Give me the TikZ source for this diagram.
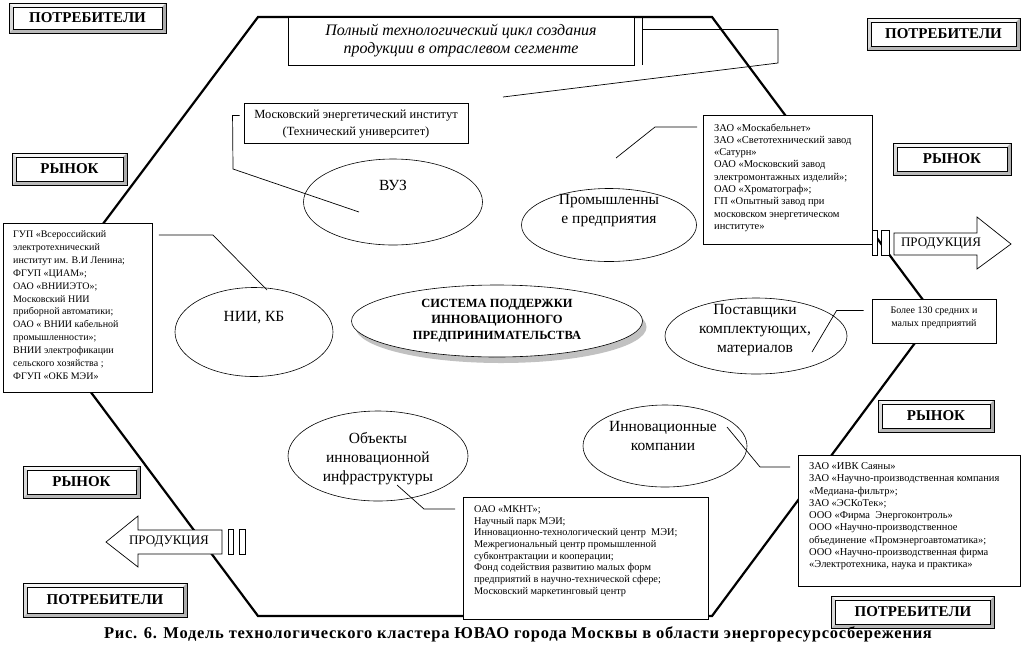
\documentclass[tikz,border=0pt]{standalone}
\usepackage{fontspec}
\setmainfont{Liberation Serif}
\newfontfamily\capfont[LetterSpace=4.5]{Liberation Serif}
\usetikzlibrary{positioning, calc, shapes.geometric, shadows}
\newcommand{\fsz}[2]{\fontsize{#1}{#2}\selectfont}

\begin{document}
\begin{tikzpicture}[x=1pt, y=-1pt,
  hexline/.style={line width=2.2pt, line join=miter},
  oval/.style={ellipse, draw, line width=0.6pt, fill=white, inner sep=0pt},
  ovaltext/.style={align=center, inner sep=0pt, font=\fsz{15.5}{19}},
  infobox/.style={draw, line width=0.9pt, fill=white, inner sep=0pt},
  boxtext/.style={align=left, inner sep=0pt, anchor=north west, font=\fsz{10.5}{12.3}},
  callout/.style={line width=0.7pt},
  stripe/.style={draw, line width=0.7pt, fill=white},
  bevelbtn/.style={draw, line width=0.7pt, fill=white, inner sep=0pt,
    font=\fsz{15}{18}\bfseries,
    path picture={
      \coordinate (bsw) at (path picture bounding box.south west);
      \coordinate (bne) at (path picture bounding box.north east);
      \coordinate (bse) at (bsw -| bne);
      \coordinate (bnw) at (bsw |- bne);
      \fill[gray!8] (bnw) -- (bne) -- ([shift={(-4pt,-4pt)}]bne) -- ([shift={(4pt,-4pt)}]bnw) -- cycle;
      \fill[gray!30] (bnw) -- (bsw) -- ([shift={(4pt,4pt)}]bsw) -- ([shift={(4pt,-4pt)}]bnw) -- cycle;
      \fill[gray!55] (bsw) -- (bse) -- ([shift={(-4pt,4pt)}]bse) -- ([shift={(4pt,4pt)}]bsw) -- cycle;
      \fill[gray!65] (bse) -- (bne) -- ([shift={(-4pt,-4pt)}]bne) -- ([shift={(-4pt,4pt)}]bse) -- cycle;
      \draw[line width=0.7pt] ([shift={(4pt,4pt)}]bsw) rectangle ([shift={(-4pt,-4pt)}]bne);
    }}]

\fill[white] (0,0) rectangle (1024,662);
\useasboundingbox (0,0) rectangle (1024,662);

% cluster hexagon
\draw[hexline] (258,17) -- (712,17) -- (935,316) -- (712,616) -- (258,616) -- (34,316) -- cycle;

% market and consumers
\node[bevelbtn, minimum width=157pt, minimum height=30pt] (consTL) at (87.5,18) {ПОТРЕБИТЕЛИ};
\node[bevelbtn, minimum width=153pt, minimum height=32pt] (consTR) at (943.5,34) {ПОТРЕБИТЕЛИ};
\node[bevelbtn, minimum width=164pt, minimum height=34pt] (consBL) at (105,600) {ПОТРЕБИТЕЛИ};
\node[bevelbtn, minimum width=163pt, minimum height=32pt] (consBR) at (913,612) {ПОТРЕБИТЕЛИ};
\node[bevelbtn, minimum width=115pt, minimum height=32pt] (mktL) at (69.5,169) {РЫНОК};
\node[bevelbtn, minimum width=117pt, minimum height=32pt] (mktLL) at (81.5,482) {РЫНОК};
\node[bevelbtn, minimum width=118pt, minimum height=32pt] (mktR) at (952,159) {РЫНОК};
\node[bevelbtn, minimum width=116pt, minimum height=32pt] (mktRL) at (936,416) {РЫНОК};

% ovals
\node[oval, minimum width=179pt, minimum height=86pt] (vuz) at (393,202) {};
\node[ovaltext] (vuzT) at (393,185) {ВУЗ};
\node[oval, minimum width=175pt, minimum height=73pt] (prom) at (609,225) {};
\node[ovaltext] (promT) at (609,211) {Промышленны\\е предприятия};
\node[oval, minimum width=158pt, minimum height=89pt] (nii) at (254,332) {};
\node[ovaltext] (niiT) at (254,318) {НИИ, КБ};
\node[oval, minimum width=182pt, minimum height=76pt] (post) at (756,336) {};
\node[ovaltext] (postT) at (755,330) {Поставщики\\комплектующих,\\материалов};
\node[oval, minimum width=164pt, minimum height=82pt] (innov) at (665,446) {};
\node[ovaltext] (innovT) at (663,436) {Инновационные\\компании};
\node[oval, minimum width=180pt, minimum height=90pt] (obj) at (378,456) {};
\node[ovaltext] (objT) at (378,459) {Объекты\\инновационной\\инфраструктуры};
\node[oval, minimum width=291pt, minimum height=72pt,
  drop shadow={shadow xshift=4pt, shadow yshift=-6pt, fill=gray!60, opacity=0.8}] (sys) at (497,321) {};
\node[ovaltext, font=\fsz{12.5}{16}\bfseries] (sysT) at (497,321) {СИСТЕМА ПОДДЕРЖКИ\\ИННОВАЦИОННОГО\\ПРЕДПРИНИМАТЕЛЬСТВА};

% text boxes
\node[infobox, minimum width=346pt, minimum height=48pt] (cyc) at (461,41) {};
\node[ovaltext, font=\fsz{16}{18}\itshape] (cycT) at (461,41) {Полный технологический цикл создания\\продукции в отраслевом сегменте};
\node[infobox, minimum width=224pt, minimum height=40pt] (mei) at (356,123) {};
\node[ovaltext, font=\fsz{12.5}{16.5}] (meiT) at (356,124) {Московский энергетический институт\\(Технический университет)};
\node[infobox, minimum width=169pt, minimum height=129pt, anchor=north west] (mosk) at (703,115) {};
\node[boxtext] (moskT) at (714,123.3) {ЗАО «Москабельнет»\\ЗАО «Светотехнический завод\\«Сатурн»\\ОАО «Московский завод\\электромонтажных изделий»;\\ОАО «Хроматограф»;\\ГП «Опытный завод при\\московском энергетическом\\институте»};
\node[infobox, minimum width=149pt, minimum height=169pt, anchor=north west] (niibox) at (3,223) {};
\node[boxtext, font=\fsz{10}{12.9}] (niiboxT) at (13,230.5) {ГУП «Всероссийский\\электротехнический\\институт им. В.И Ленина;\\ФГУП «ЦИАМ»;\\ОАО «ВНИИЭТО»;\\Московский НИИ\\приборной автоматики;\\ОАО « ВНИИ кабельной\\промышленности»;\\ВНИИ электрофикации\\сельского хозяйства ;\\ФГУП «ОКБ МЭИ»};
\node[infobox, minimum width=124pt, minimum height=44pt] (bolee) at (934,321) {};
\node[ovaltext, font=\fsz{10}{13}] (boleeT) at (934,318) {Более 130 средних и\\малых предприятий};
\node[infobox, minimum width=222pt, minimum height=131pt, anchor=north west] (ivk) at (798,455) {};
\node[boxtext] (ivkT) at (809,462.3) {ЗАО «ИВК Саяны»\\ЗАО «Научно-производственная компания\\«Медиана-фильтр»;\\ЗАО «ЭСКоТек»;\\ООО «Фирма~ Энергоконтроль»\\ООО «Научно-производственное\\объединение «Промэнергоавтоматика»;\\ООО «Научно-производственная фирма\\«Электротехника, наука и практика»};
\node[infobox, minimum width=245pt, minimum height=122pt, anchor=north west] (mknt) at (463,497) {};
\node[boxtext, font=\fsz{10.3}{11.7}] (mkntT) at (474,505.4) {ОАО «МКНТ»;\\Научный парк МЭИ;\\Инновационно-технологический центр~ МЭИ;\\Межрегиональный центр промышленной\\субконтрактации и кооперации;\\Фонд содействия развитию малых форм\\предприятий в научно-технической сфере;\\Московский маркетинговый центр};

% callout lines
\coordinate (cycEnd) at (503,97);
\coordinate (meiEnd) at (359,212);
\coordinate (moskEnd) at (616,158);
\coordinate (niiEnd) at (267,290);
\coordinate (boleeEnd) at (812,352);
\coordinate (ivkEnd) at (727,427);
\coordinate (mkntEnd) at (397,485);
\draw[callout] ([xshift=8pt]cyc.north east) -- ([xshift=8pt]cyc.south east);
\draw[callout] ([xshift=8pt,yshift=-13pt]cyc.north east) -| (778,63) -- (cycEnd);
\draw[callout] ([xshift=-4pt,yshift=-13pt]mei.north west) -- ++(-7,0) -- (233,169) -- (meiEnd);
\draw[callout] ([xshift=-6pt,yshift=-12pt]mosk.north west) -- ++(-42,0) -- (moskEnd);
\draw[callout] ([xshift=6pt,yshift=-12pt]niibox.north east) -- ++(54,0) -- (niiEnd);
\draw[callout] ([xshift=-8pt,yshift=-12pt]bolee.north west) -- ++(-27,0) -- (boleeEnd);
\draw[callout] ([xshift=-8pt,yshift=-12pt]ivk.north west) -- ++(-30,0) -- (ivkEnd);
\draw[callout] ([xshift=-8pt,yshift=-12pt]mknt.north west) -- ++(-31,0) -- (mkntEnd);

% product arrows
\draw[stripe] (872,230) rectangle (877,255);
\draw[stripe] (881,230) rectangle (889,255);
\draw[stripe] (894,233) -- (977,233) -- (977,217) -- (1011,244) -- (977,269) -- (977,255) -- (894,255) -- cycle;
\node[font=\fsz{13}{15}, inner sep=0pt] (prodR) at (941,244) {ПРОДУКЦИЯ};
\draw[stripe] (228,529) rectangle (233,554);
\draw[stripe] (239,529) rectangle (245,554);
\draw[stripe] (222,530) -- (138,530) -- (138,516) -- (106,542) -- (138,567) -- (138,554) -- (222,554) -- cycle;
\node[font=\fsz{13}{15}, inner sep=0pt] (prodL) at (169,542) {ПРОДУКЦИЯ};

% caption
\node[font=\capfont\bfseries\fsz{16.5}{18}, inner sep=0pt] (caption) at (518,634) {Рис. 6. Модель технологического кластера ЮВАО города Москвы в области энергоресурсосбережения};
\end{tikzpicture}
\end{document}
